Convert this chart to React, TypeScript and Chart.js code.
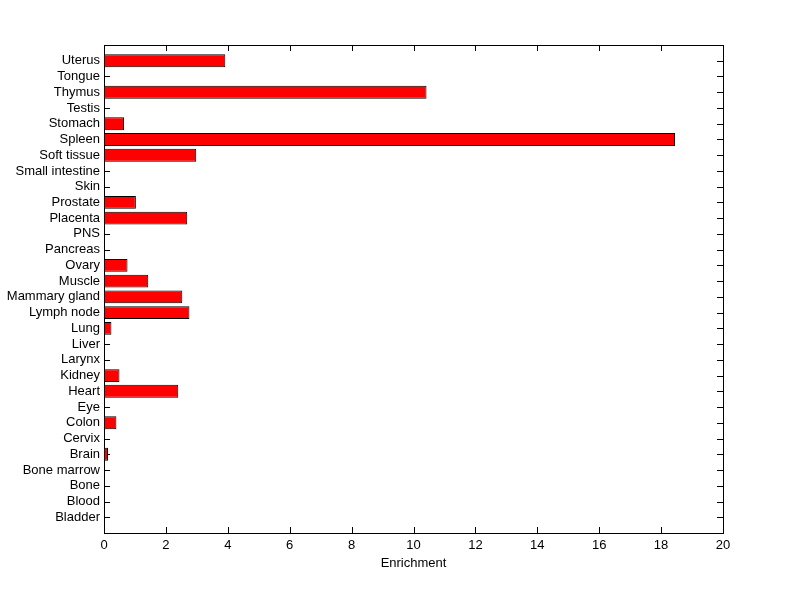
import React, { useEffect, useRef } from "react";
import { Chart, registerables } from "chart.js";

Chart.register(...registerables);

const categories = [
  "Uterus", "Tongue", "Thymus", "Testis", "Stomach", "Spleen", "Soft tissue",
  "Small intestine", "Skin", "Prostate", "Placenta", "PNS", "Pancreas", "Ovary",
  "Muscle", "Mammary gland", "Lymph node", "Lung", "Liver", "Larynx", "Kidney",
  "Heart", "Eye", "Colon", "Cervix", "Brain", "Bone marrow", "Bone", "Blood", "Bladder",
];

const enrichment = [
  3.92, 0, 10.42, 0, 0.65, 18.45, 2.98,
  0, 0, 1.03, 2.69, 0, 0, 0.76,
  1.43, 2.53, 2.76, 0.24, 0, 0, 0.5,
  2.4, 0, 0.4, 0, 0.13, 0, 0, 0, 0,
];

const xTicks = [0, 2, 4, 6, 8, 10, 12, 14, 16, 18, 20];
const xTitle = "Enrichment";

const FONT = "'Liberation Sans', Arial, Helvetica, sans-serif";

const frameTicks = {
  id: "frameTicks",
  beforeDatasetsDraw(chart: any) {
    const { ctx, chartArea: a, scales } = chart;
    const x = scales.x;
    const y = scales.y;
    const len = 6;
    ctx.save();
    ctx.strokeStyle = "#000";
    ctx.lineWidth = 1;
    ctx.beginPath();
    xTicks.forEach((v) => {
      const px = Math.round(x.getPixelForValue(v)) + 0.5;
      ctx.moveTo(px, a.top);
      ctx.lineTo(px, a.top + len);
      ctx.moveTo(px, a.bottom);
      ctx.lineTo(px, a.bottom - len);
    });
    categories.forEach((_, i) => {
      const py = Math.round(y.getPixelForValue(i + 1)) + 0.5;
      ctx.moveTo(a.left, py);
      ctx.lineTo(a.left + len, py);
      ctx.moveTo(a.right, py);
      ctx.lineTo(a.right - len, py);
    });
    ctx.stroke();
    ctx.restore();
  },
  afterDatasetsDraw(chart: any) {
    const { ctx, chartArea: a } = chart;
    ctx.save();
    ctx.strokeStyle = "#000";
    ctx.lineWidth = 1;
    ctx.strokeRect(
      Math.round(a.left) + 0.5,
      Math.round(a.top) + 0.5,
      Math.round(a.right - a.left),
      Math.round(a.bottom - a.top)
    );
    ctx.restore();
  },
};

export default function App() {
  const ref = useRef<HTMLCanvasElement>(null);

  useEffect(() => {
    document.body.style.margin = "0";
    const canvas = ref.current;
    if (!canvas) return;
    const chart = new Chart(canvas, {
      type: "bar",
      data: {
        datasets: [
          {
            data: enrichment.map((v, i) => ({ x: v, y: i + 1 })),
            backgroundColor: "#ff0000",
            borderColor: "#000000",
            borderWidth: 1,
            borderSkipped: false,
            barPercentage: 0.82,
            categoryPercentage: 1,
          },
        ],
      },
      options: {
        indexAxis: "y",
        responsive: false,
        animation: false,
        devicePixelRatio: 1,
        layout: { padding: { top: 45, right: 77, left: 0, bottom: 0 } },
        plugins: {
          legend: { display: false },
          tooltip: { enabled: false },
        },
        scales: {
          x: {
            type: "linear",
            position: "bottom",
            min: 0,
            max: 20,
            grid: { display: false, drawTicks: false },
            border: { display: false },
            ticks: {
              stepSize: 2,
              color: "#000",
              padding: 5,
              font: { family: FONT, size: 13 },
              maxRotation: 0,
            },
            title: {
              display: true,
              text: xTitle,
              color: "#000",
              font: { family: FONT, size: 13 },
              padding: { top: 0, bottom: 28 },
            },
            afterFit(scale: any) {
              scale.height = 66;
            },
          },
          y: {
            type: "linear",
            position: "left",
            min: 0,
            max: 31,
            reverse: true,
            offset: false,
            grid: { display: false, drawTicks: false },
            border: { display: false },
            ticks: {
              stepSize: 1,
              autoSkip: false,
              color: "#000",
              padding: 4,
              font: { family: FONT, size: 13 },
              callback: (v: any) => categories[Number(v) - 1] ?? "",
            },
            afterFit(scale: any) {
              scale.width = 104;
            },
          },
        },
      },
      plugins: [frameTicks],
    } as any);
    return () => chart.destroy();
  }, []);

  return (
    <div style={{ width: 800, height: 599, background: "#fff" }}>
      <canvas ref={ref} width={800} height={599} style={{ display: "block" }} />
    </div>
  );
}
